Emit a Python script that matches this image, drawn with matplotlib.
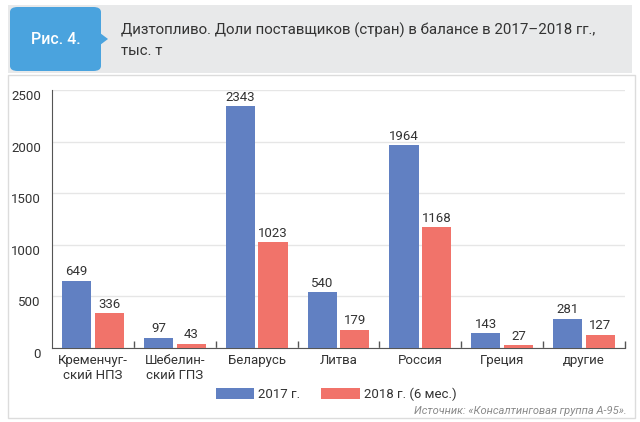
import matplotlib
matplotlib.use('Agg')
import numpy as np
import matplotlib.pyplot as plt
from matplotlib.patches import Rectangle, FancyBboxPatch, Polygon, Patch

# Data
categories = ['Кременчуг-\nский НПЗ', 'Шебелин-\nский ГПЗ', 'Беларусь', 'Литва',
              'Россия', 'Греция', 'другие']
values_2017 = [649, 97, 2343, 540, 1964, 143, 281]
values_2018 = [336, 43, 1023, 179, 1168, 27, 127]
series_labels = ['2017 г.', '2018 г. (6 мес.)']
y_ticks = [0, 500, 1000, 1500, 2000, 2500]

title = 'Дизтопливо. Доли поставщиков (стран) в балансе в 2017–2018 гг.,\nтыс. т'
fig_label = 'Рис. 4.'
source = 'Источник: «Консалтинговая группа А-95».'

BLUE = '#6180c2'
RED = '#f1736a'
TEXT = '#333333'

plt.rcParams['font.family'] = ['Roboto', 'DejaVu Sans']

W, H = 640, 422
fig = plt.figure(figsize=(W / 100, H / 100), dpi=100)


def px(x, y):
    """pixel coords (top-left origin) -> figure fraction"""
    return x / W, 1 - y / H


# white panel with faint border
fig.patches.append(Rectangle(px(8, 418), 627 / W, 343 / H, transform=fig.transFigure,
                             facecolor='white', edgecolor='#dcdcdc', linewidth=1, zorder=0))

# header band
fig.patches.append(Rectangle(px(8, 73), 624 / W, 68 / H, transform=fig.transFigure,
                             facecolor='#e8e9ea', edgecolor='none', zorder=1))
fig.patches.append(FancyBboxPatch(px(10, 71), 91 / W, 64 / H, transform=fig.transFigure,
                                  boxstyle='round,pad=0,rounding_size=0.012',
                                  facecolor='#4aa3de', edgecolor='none', zorder=2))
tri = [px(100, 33), px(108, 39), px(100, 45)]
fig.patches.append(Polygon(tri, closed=True, transform=fig.transFigure,
                           facecolor='#4aa3de', edgecolor='none', zorder=2))
fig.text(*px(56, 40), fig_label, color='white', fontsize=11.5, fontweight='medium',
         ha='center', va='center', zorder=3)
fig.text(*px(121, 40), title, color=TEXT, fontsize=10.8, ha='left', va='center',
         linespacing=1.55, zorder=3)

# axes
x0, x1, y_top, y_zero = 52, 625, 90, 348
ax = fig.add_axes([x0 / W, 1 - y_zero / H, (x1 - x0) / W, (y_zero - y_top) / H])
ax.set_facecolor('none')
ax.set_zorder(5)

x = np.arange(len(categories))
width = 0.355
off = 0.2
bars1 = ax.bar(x - off, values_2017, width, color=BLUE, zorder=3)
bars2 = ax.bar(x + off, values_2018, width, color=RED, zorder=3)

for bars in (bars1, bars2):
    for b in bars:
        ax.text(b.get_x() + b.get_width() / 2, b.get_height() + 25, f'{int(b.get_height())}',
                ha='center', va='bottom', fontsize=9.5, color=TEXT)

ax.set_xlim(-0.5, len(categories) - 0.5)
ax.set_ylim(0, 2500)
ax.set_yticks(y_ticks)
ax.set_yticklabels([str(t) for t in y_ticks])
ax.set_xticks(x)
ax.set_xticklabels(categories)
ax.set_xticks(np.arange(len(categories)) + 0.5, minor=True)
ax.tick_params(axis='x', which='major', length=0, pad=4, labelsize=9.5, labelcolor=TEXT)
ax.tick_params(axis='x', which='minor', direction='in', length=5, width=1, color='#555555')
ax.tick_params(axis='y', length=0, pad=8, labelsize=9.5, labelcolor=TEXT)
for lab in ax.get_yticklabels():
    lab.set_verticalalignment('top')

ax.grid(True, axis='y', color='#e6e6e6', linewidth=1, zorder=0)
for s in ('top', 'right'):
    ax.spines[s].set_visible(False)
ax.spines['left'].set_color('#555555')
ax.spines['bottom'].set_color('#555555')

# legend
handles = [Patch(facecolor=BLUE, label=series_labels[0]),
           Patch(facecolor=RED, label=series_labels[1])]
leg = fig.legend(handles=handles, loc='center', bbox_to_anchor=px(336, 394), ncol=2,
                 frameon=False, fontsize=9.5, handlelength=2.9, handleheight=0.9,
                 handletextpad=0.3, columnspacing=1.6, labelcolor=TEXT)
leg.set_zorder(6)

fig.text(*px(627, 411), source, color='#8a8a8a', fontsize=8, style='italic',
         ha='right', va='center')

fig.savefig('out.png', dpi=100)
